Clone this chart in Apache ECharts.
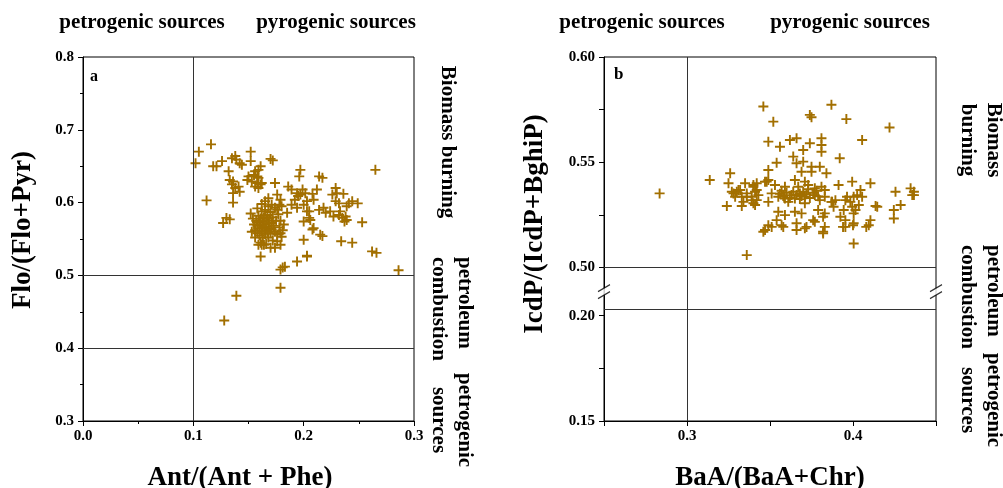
<!DOCTYPE html>
<html>
<head>
<meta charset="utf-8">
<script src="https://cdn.jsdelivr.net/npm/echarts@6/dist/echarts.min.js"></script>
<style>html,body{margin:0;padding:0;background:#fff}#c{width:1003px;height:488px}</style>
</head>
<body>
<div id="c"></div>
<script>
// ---------- Panel a data: Ant/(Ant+Phe) vs Flo/(Flo+Pyr) ----------
const pointsA = [
[0.102,0.654],[0.105,0.670],[0.116,0.680],[0.118,0.650],[0.121,0.650],[0.126,0.657],[0.135,0.661],[0.138,0.664],[0.139,0.659],[0.142,0.654],
[0.152,0.670],[0.152,0.657],[0.144,0.652],[0.170,0.660],[0.172,0.658],[0.112,0.603],[0.136,0.600],[0.130,0.579],[0.133,0.577],[0.127,0.572],
[0.132,0.643],[0.133,0.631],[0.136,0.629],[0.135,0.625],[0.138,0.620],[0.141,0.622],[0.142,0.615],[0.136,0.613],
[0.149,0.631],[0.153,0.629],[0.156,0.622],[0.158,0.627],[0.159,0.620],[0.161,0.625],[0.158,0.636],[0.159,0.645],[0.161,0.650],[0.156,0.643],[0.155,0.638],[0.159,0.634],[0.162,0.627],[0.150,0.636],
[0.174,0.627],[0.186,0.622],[0.189,0.618],[0.194,0.613],[0.197,0.611],[0.197,0.645],[0.196,0.636],
[0.176,0.611],[0.179,0.604],[0.168,0.606],[0.165,0.602],[0.171,0.597],[0.180,0.595],[0.185,0.586],[0.189,0.597],[0.194,0.593],[0.200,0.597],[0.203,0.588],
[0.199,0.618],[0.2015,0.613],[0.195,0.609],[0.192,0.604],[0.203,0.602],[0.209,0.604],
[0.200,0.574],[0.205,0.579],[0.200,0.549],[0.209,0.565],[0.217,0.554],
[0.162,0.542],[0.161,0.526],[0.174,0.538],[0.176,0.547],[0.179,0.558],[0.159,0.542],[0.164,0.542],[0.179,0.542],
[0.194,0.519],[0.179,0.508],[0.181,0.511],[0.179,0.483],[0.139,0.472],[0.128,0.438],[0.203,0.527],[0.183,0.512],
[0.265,0.645],[0.214,0.636],[0.217,0.634],[0.212,0.618],[0.208,0.612],[0.229,0.620],[0.230,0.613],[0.226,0.611],[0.236,0.612],[0.229,0.602],[0.232,0.599],[0.241,0.599],[0.244,0.602],[0.249,0.599],[0.239,0.595],
[0.214,0.590],[0.218,0.593],[0.220,0.586],[0.224,0.588],[0.227,0.581],[0.232,0.583],[0.235,0.579],[0.237,0.574],[0.239,0.576],[0.233,0.588],[0.238,0.581],[0.253,0.573],
[0.205,0.588],[0.206,0.576],[0.208,0.563],[0.215,0.556],[0.203,0.526],[0.234,0.547],[0.244,0.545],[0.262,0.533],[0.266,0.531],[0.286,0.507],
[0.152,0.585],[0.154,0.578],[0.155,0.570],[0.156,0.562],[0.157,0.575],[0.158,0.568],[0.158,0.558],[0.159,0.582],[0.160,0.573],[0.160,0.565],
[0.160,0.555],[0.161,0.578],[0.161,0.570],[0.162,0.560],[0.162,0.588],[0.163,0.574],[0.163,0.566],[0.163,0.552],[0.164,0.580],[0.164,0.570],
[0.165,0.562],[0.165,0.557],[0.165,0.590],[0.166,0.575],[0.166,0.567],[0.167,0.583],[0.167,0.560],[0.168,0.571],[0.168,0.552],[0.169,0.578],
[0.169,0.565],[0.170,0.587],[0.170,0.558],[0.171,0.572],[0.171,0.563],[0.172,0.580],[0.172,0.548],[0.173,0.568],[0.174,0.593],[0.174,0.560],
[0.175,0.575],[0.176,0.556],[0.177,0.584],[0.178,0.566],[0.179,0.575],[0.180,0.553],[0.181,0.562],[0.182,0.570],[0.156,0.552],[0.153,0.560],
[0.161,0.545],[0.166,0.543],[0.170,0.538],[0.158,0.592],[0.162,0.598],[0.168,0.595],[0.176,0.590],[0.178,0.597]
];
// ---------- Panel b data: BaA/(BaA+Chr) vs IcdP/(IcdP+BghiP) ----------
const pointsB = [
[0.2835,0.5352],[0.346,0.5765],[0.352,0.5693],[0.374,0.5725],[0.375,0.5714],[0.387,0.5773],[0.396,0.5705],[0.422,0.5665],[0.4055,0.5606],
[0.349,0.5598],[0.356,0.5574],[0.362,0.5606],[0.366,0.5614],[0.374,0.5590],[0.381,0.5614],[0.381,0.5582],[0.381,0.5550],
[0.354,0.5498],[0.364,0.5527],[0.370,0.5503],[0.375,0.5479],[0.380,0.5479],[0.384,0.5448],[0.392,0.5519],
[0.370,0.5558],[0.366,0.5495],[0.349,0.5463],[0.369,0.5455],[0.375,0.5455],
[0.348,0.5408],[0.342,0.5400],[0.326,0.5448],[0.325,0.5400],[0.3137,0.5416],[0.328,0.5352],[0.330,0.5360],[0.336,0.5336],[0.341,0.5360],[0.342,0.5320],[0.340,0.5305],[0.334,0.5312],[0.324,0.5292],[0.333,0.5292],[0.339,0.5336],
[0.347,0.5178],[0.351,0.5193],[0.354,0.5225],[0.358,0.5193],[0.366,0.5178],[0.366,0.5210],[0.371,0.5186],[0.376,0.5225],[0.382,0.5170],[0.383,0.5193],[0.394,0.5193],[0.400,0.5201],[0.408,0.5193],[0.4105,0.5225],[0.4246,0.5233],[0.4246,0.5273],[0.4287,0.5297],[0.4367,0.5344],[0.4367,0.5360],[0.4256,0.5360],[0.4146,0.5289],[0.4055,0.5336],[0.3995,0.5408],[0.4105,0.5400],[0.3995,0.5289],[0.3954,0.5320],[0.3874,0.5312],
[0.3913,0.5392],[0.4045,0.5368],[0.4347,0.5376],[0.4357,0.5344],[0.3964,0.5336],[0.4004,0.5336],[0.4025,0.5344],[0.3894,0.5320],[0.3984,0.5312],[0.4035,0.5297],[0.4136,0.5292],[0.4004,0.5257],[0.3924,0.5241],[0.3954,0.5225],[0.4004,0.5210],[0.3954,0.5193],[0.4095,0.5201],[0.4004,0.5114],[0.3883,0.5289],[0.3944,0.5273],[0.4015,0.5273],
[0.335,0.5400],[0.340,0.5392],[0.347,0.5408],[0.349,0.5416],[0.353,0.5392],[0.359,0.5384],[0.365,0.5416],[0.367,0.5384],[0.371,0.5408],[0.373,0.5392],[0.377,0.5376],[0.381,0.5384],[0.383,0.5368],[0.331,0.5368],[0.342,0.5368],
[0.333,0.5336],[0.339,0.5320],[0.343,0.5344],[0.351,0.5352],[0.355,0.5336],[0.359,0.5328],[0.363,0.5344],[0.365,0.5328],[0.368,0.5352],[0.371,0.5336],[0.377,0.5344],[0.380,0.5320],[0.383,0.5336],[0.387,0.5312],[0.349,0.5312],[0.361,0.5312],[0.341,0.5297],[0.371,0.5305],
[0.355,0.5265],[0.359,0.5249],[0.365,0.5265],[0.369,0.5257],[0.379,0.5273],[0.383,0.5257],[0.357,0.5201],[0.349,0.5201],[0.346,0.5170],[0.372,0.5193],[0.377,0.5217],[0.382,0.5241],[0.382,0.5162],[0.336,0.5059],
[0.327,0.5360],[0.332,0.5368],[0.336,0.5352],[0.340,0.5384],[0.329,0.5336],
[0.356,0.5350],[0.358,0.5340],[0.360,0.5355],[0.362,0.5330],[0.364,0.5360],[0.366,0.5345],[0.368,0.5325],[0.370,0.5360],[0.372,0.5348],[0.374,0.5330],[0.376,0.5355],[0.378,0.5365],[0.379,0.5338],[0.373,0.5372],[0.369,0.5340],[0.357,0.5365]
];

// Reference (source-diagnosis) lines
const refA_x = [0.1];
const refA_y = [0.5, 0.4];
const refB_x = [0.3];
const refB_y = [0.5, 0.2];

// Axis ranges and ticks
const xRangeA = [0, 0.3];
const yRangeA = [0.3, 0.8];
const xRangeB = [0.25, 0.45];
const xTicksB = [0.25, 0.3, 0.35, 0.4, 0.45];
const xLabelsB = [0.3, 0.4];
const yRangeB = [0.15, 0.60];
const yTicksB = [0.15, 0.175, 0.2, 0.5, 0.525, 0.55, 0.575, 0.6];
const yLabelsB = [0.15, 0.2, 0.5, 0.55, 0.6];
const yBreakB = [0.2, 0.5];   // broken segment of panel-b y axis
const breakGap = 0.0229;       // visual size of the break (in upper-segment units)

// Broken-axis mapping for panel b
const breakOffset = yBreakB[1] - yBreakB[0] - breakGap;
function toD(v){ return v <= yBreakB[0] + 1e-9 ? v + breakOffset : v; }
function toR(d){ return d < yBreakB[0] + breakOffset + breakGap/2 ? d - breakOffset : d; }

const FONT = '"Liberation Serif","Times New Roman",serif';
const MARK = '#a26f00';
const plus = 'path://M4.05,0H5.95V4.05H10V5.95H5.95V10H4.05V5.95H0V4.05H4.05Z';

const chart = echarts.init(document.getElementById('c'), null, {renderer:'canvas'});

const axisLabelStyle = {color:'#000', fontFamily:FONT, fontWeight:'bold', fontSize:15};
const nameStyle = {color:'#000', fontFamily:FONT, fontWeight:'bold', fontSize:27};
const lineCol = '#000';

const breakMid = (toD(yBreakB[0]) + yBreakB[1]) / 2;
const breakMarks = [[xRangeB[0], breakMid], [xRangeB[1], breakMid]];

function refLines(xs, ys){
  return {
    silent:true, symbol:['none','none'], animation:false,
    label:{show:false},
    lineStyle:{color:'#333', type:'solid', width:1},
    emphasis:{disabled:true},
    data: xs.map(v=>({xAxis:v})).concat(ys.map(v=>({yAxis:v})))
  };
}

const option = {
  animation:false,
  backgroundColor:'#fff',
  grid:[
    {left:83, top:57, width:331, height:364, show:true, borderColor:lineCol, borderWidth:1, containLabel:false, outerBoundsMode:'none'},
    {left:604, top:57, width:332, height:364, show:true, borderColor:lineCol, borderWidth:1, containLabel:false, outerBoundsMode:'none'}
  ],
  xAxis:[
    {type:'value', gridIndex:0, min:xRangeA[0], max:xRangeA[1], interval:0.1,
     name:'Ant/(Ant + Phe)', nameLocation:'middle', nameGap:44, nameTextStyle:Object.assign({padding:[0,17,0,0]}, nameStyle),
     axisLine:{show:true, onZero:false, lineStyle:{color:lineCol}},
     axisTick:{show:true, inside:false, length:5, lineStyle:{color:lineCol}},
     minorTick:{show:true, splitNumber:2, length:3, lineStyle:{color:lineCol}},
     splitLine:{show:false},
     axisLabel:Object.assign({margin:8, formatter:v=>v.toFixed(1)}, axisLabelStyle)},
    {type:'value', gridIndex:1, min:xRangeB[0], max:xRangeB[1],
     name:'BaA/(BaA+Chr)', nameLocation:'middle', nameGap:44, nameTextStyle:nameStyle,
     axisLine:{show:true, onZero:false, lineStyle:{color:lineCol}},
     axisTick:{show:true, inside:false, length:5, customValues:xTicksB, lineStyle:{color:lineCol}},
     splitLine:{show:false},
     axisLabel:Object.assign({margin:8, customValues:xLabelsB, formatter:v=>(+v).toFixed(1)}, axisLabelStyle)}
  ],
  yAxis:[
    {type:'value', gridIndex:0, min:yRangeA[0], max:yRangeA[1], interval:0.1,
     name:'Flo/(Flo+Pyr)', nameLocation:'middle', nameRotate:90, nameGap:46, nameTextStyle:Object.assign({padding:[0,0,0,18]}, nameStyle),
     axisLine:{show:true, onZero:false, lineStyle:{color:lineCol}},
     axisTick:{show:true, inside:false, length:5, lineStyle:{color:lineCol}},
     minorTick:{show:true, splitNumber:2, length:3, lineStyle:{color:lineCol}},
     splitLine:{show:false},
     axisLabel:Object.assign({margin:9, formatter:v=>v.toFixed(1)}, axisLabelStyle)},
    {type:'value', gridIndex:1, min:toD(yRangeB[0]), max:yRangeB[1],
     name:'IcdP/(IcdP+BghiP)', nameLocation:'middle', nameRotate:90, nameGap:55, nameTextStyle:Object.assign({padding:[0,0,0,30]}, nameStyle),
     axisLine:{show:true, onZero:false, lineStyle:{color:lineCol}},
     axisTick:{show:true, inside:false, length:5, customValues:yTicksB.map(toD), lineStyle:{color:lineCol}},
     splitLine:{show:false},
     axisLabel:Object.assign({margin:9, customValues:yLabelsB.map(toD), formatter:v=>toR(+v).toFixed(2)}, axisLabelStyle)}
  ],
  series:[
    {type:'scatter', xAxisIndex:0, yAxisIndex:0, data:pointsA, symbol:plus, symbolSize:10,
     itemStyle:{color:MARK, opacity:1}, emphasis:{disabled:true}, silent:true,
     markLine:refLines(refA_x, refA_y)},
    {type:'scatter', xAxisIndex:1, yAxisIndex:1, data:pointsB.map(p=>[p[0], toD(p[1])]), symbol:plus, symbolSize:10,
     itemStyle:{color:MARK, opacity:1}, emphasis:{disabled:true}, silent:true,
     markLine:refLines(refB_x, refB_y.map(toD))},
    {type:'scatter', xAxisIndex:1, yAxisIndex:1, data:breakMarks, symbol:'rect', symbolSize:[6,7], clip:false,
     itemStyle:{color:'#fff', borderWidth:0}, silent:true, z:5},
    {type:'scatter', xAxisIndex:1, yAxisIndex:1, data:breakMarks, symbol:'path://M0,12 L12,5 M0,19 L12,12', symbolSize:[12,14], clip:false,
     itemStyle:{color:'transparent', borderColor:'#000', borderWidth:1.2}, silent:true, z:6}
  ],
  graphic:[
    {type:'text', x:142, y:23, style:{text:'petrogenic sources', font:'bold 21px '+FONT, fill:'#000', textAlign:'center', textVerticalAlign:'middle'}},
    {type:'text', x:336, y:23, style:{text:'pyrogenic sources', font:'bold 21px '+FONT, fill:'#000', textAlign:'center', textVerticalAlign:'middle'}},
    {type:'text', x:642, y:23, style:{text:'petrogenic sources', font:'bold 21px '+FONT, fill:'#000', textAlign:'center', textVerticalAlign:'middle'}},
    {type:'text', x:850, y:23, style:{text:'pyrogenic sources', font:'bold 21px '+FONT, fill:'#000', textAlign:'center', textVerticalAlign:'middle'}},
    {type:'text', x:90, y:77, style:{text:'a', font:'bold 16px '+FONT, fill:'#000', textAlign:'left', textVerticalAlign:'middle'}},
    {type:'text', x:614, y:75, style:{text:'b', font:'bold 17px '+FONT, fill:'#000', textAlign:'left', textVerticalAlign:'middle'}},
    // panel a right-side labels
    {type:'text', x:447, y:142, rotation:-Math.PI/2, style:{text:'Biomass burning', font:'bold 21px '+FONT, fill:'#000', textAlign:'center', textVerticalAlign:'middle'}},
    {type:'text', x:477, y:257, rotation:-Math.PI/2, style:{text:'petroleum\ncombustion', font:'bold 21px '+FONT, lineHeight:26, fill:'#000', textAlign:'left', textVerticalAlign:'top'}},
    {type:'text', x:451, y:420, rotation:-Math.PI/2, style:{text:'petrogenic\nsources', font:'bold 21px '+FONT, lineHeight:26, fill:'#000', textAlign:'center', textVerticalAlign:'middle'}},
    // panel b right-side labels
    {type:'text', x:980, y:140, rotation:-Math.PI/2, style:{text:'Biomass\nburning', font:'bold 21px '+FONT, lineHeight:26, fill:'#000', textAlign:'center', textVerticalAlign:'middle'}},
    {type:'text', x:1006, y:245, rotation:-Math.PI/2, style:{text:'petroleum\ncombustion', font:'bold 21px '+FONT, lineHeight:26, fill:'#000', textAlign:'left', textVerticalAlign:'top'}},
    {type:'text', x:980, y:400, rotation:-Math.PI/2, style:{text:'petrogenic\nsources', font:'bold 21px '+FONT, lineHeight:26, fill:'#000', textAlign:'center', textVerticalAlign:'middle'}}
  ]
};
chart.setOption(option);
</script>
</body>
</html>
